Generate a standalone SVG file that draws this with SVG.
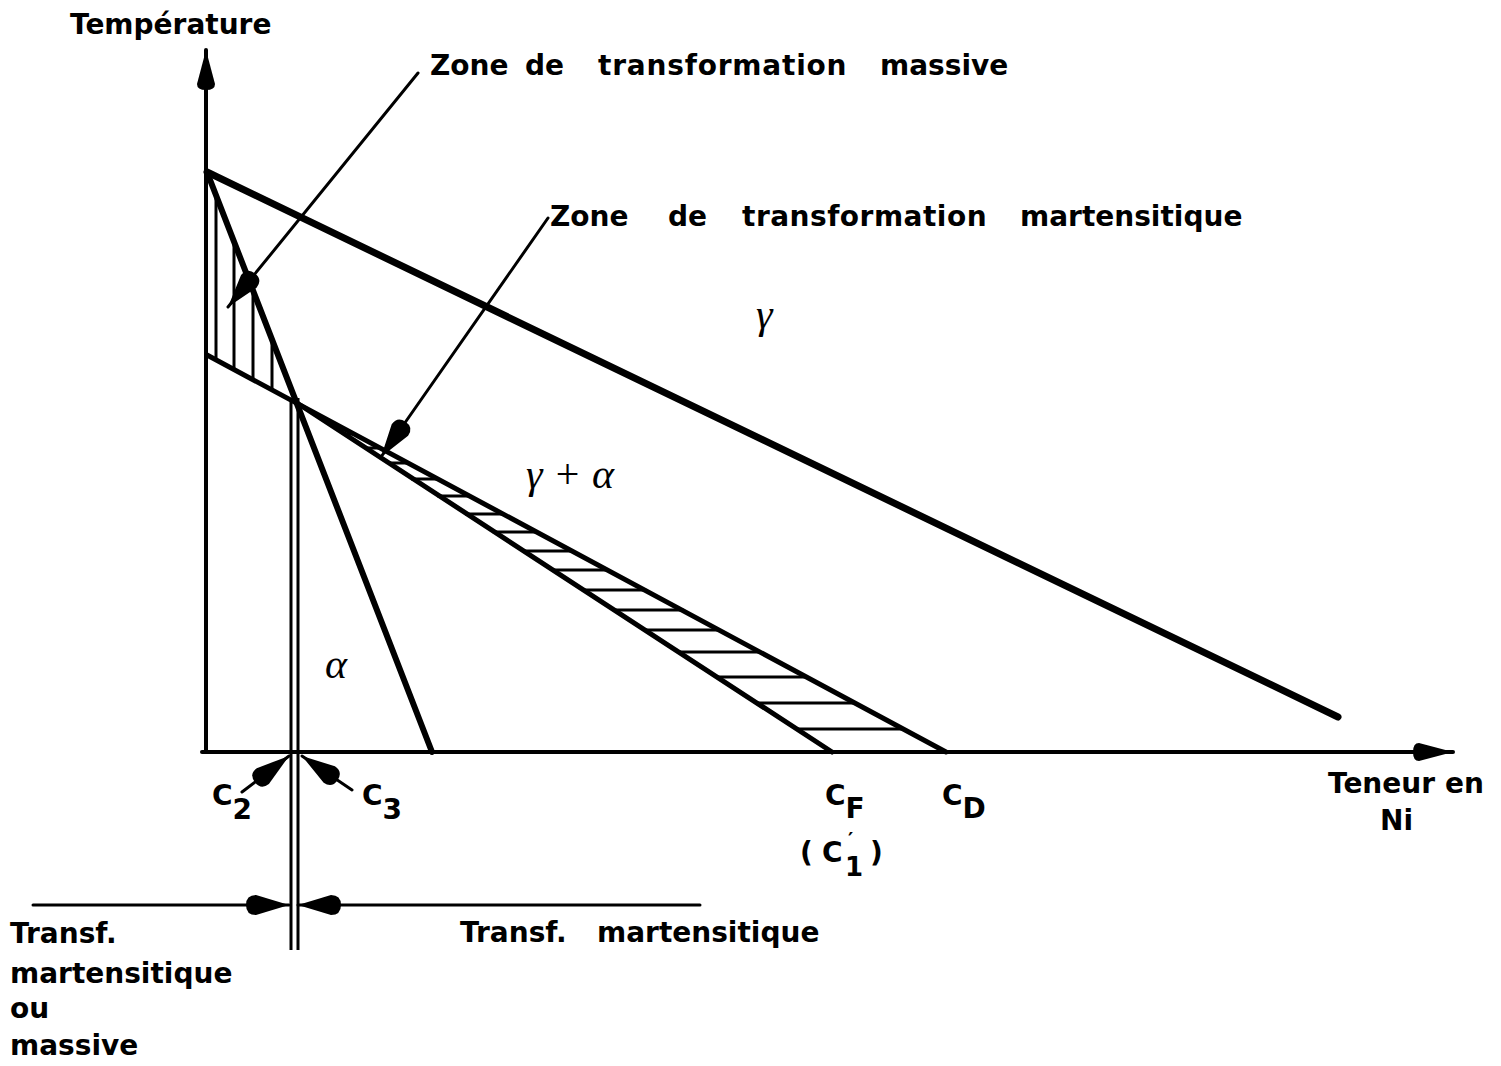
<svg xmlns="http://www.w3.org/2000/svg" width="1501" height="1066" viewBox="0 0 1501 1066">
<style>
.lbl{font-family:"DejaVu Sans","Liberation Sans",sans-serif;font-weight:bold;font-size:28px;fill:#000}
.gr{font-family:"Liberation Serif","DejaVu Serif",serif;font-style:italic;fill:#000}
.ax{stroke:#000;stroke-width:4;fill:none;stroke-linecap:round}
.bd{stroke:#000;fill:none;stroke-linecap:round;stroke-linejoin:round}
.ht{stroke:#000;stroke-width:3;fill:none}
.ld{stroke:#000;stroke-width:3;fill:none;stroke-linecap:round}
</style>
<defs>
<marker id="ah" markerUnits="userSpaceOnUse" orient="auto" overflow="visible" markerWidth="1" markerHeight="1" refX="0" refY="0">
<path d="M0,0 L-33,-10 Q-43,-10 -43,0 Q-43,10 -33,10 Z" fill="#000"/>
</marker>
<marker id="axh" markerUnits="userSpaceOnUse" orient="auto" overflow="visible" markerWidth="1" markerHeight="1" refX="0" refY="0">
<path d="M0,0 L-34,-9 Q-40,-9 -40,0 Q-40,9 -34,9 Z" fill="#000"/>
</marker>
</defs>
<rect width="1501" height="1066" fill="#fff"/>

<g id="axes">
<line class="ax" x1="206" y1="752" x2="206" y2="50" marker-end="url(#axh)"/>
<line class="ax" x1="202" y1="752" x2="1453" y2="752" marker-end="url(#axh)"/>
</g>

<g id="boundaries">
<line class="bd" stroke-width="7" x1="207" y1="172" x2="1338" y2="717"/>
<line class="bd" stroke-width="6" x1="207" y1="172" x2="432" y2="752"/>
<line class="bd" stroke-width="5" x1="207" y1="355" x2="946" y2="752"/>
<line class="bd" stroke-width="5" x1="297" y1="403" x2="832" y2="752"/>
</g>

<g id="hatch-massive">
<line class="ht" x1="216" y1="195" x2="216" y2="360"/>
<line class="ht" x1="234" y1="241" x2="234" y2="369"/>
<line class="ht" x1="253" y1="290" x2="253" y2="380"/>
<line class="ht" x1="272" y1="339" x2="272" y2="390"/>
</g>

<g id="hatch-martensitique">
<line class="ht" x1="344.8" y1="434" x2="354.7" y2="434"/>
<line class="ht" x1="366.4" y1="448" x2="380.8" y2="448"/>
<line class="ht" x1="389.5" y1="463" x2="408.9" y2="463"/>
<line class="ht" x1="411.1" y1="479" x2="438.8" y2="479"/>
<line class="ht" x1="437.3" y1="496" x2="470.5" y2="496"/>
<line class="ht" x1="465.1" y1="514" x2="504.2" y2="514"/>
<line class="ht" x1="492.8" y1="532" x2="537.8" y2="532"/>
<line class="ht" x1="522.1" y1="551" x2="573.3" y2="551"/>
<line class="ht" x1="551.4" y1="570" x2="608.8" y2="570"/>
<line class="ht" x1="582.3" y1="590" x2="646.2" y2="590"/>
<line class="ht" x1="613.2" y1="610" x2="683.6" y2="610"/>
<line class="ht" x1="644" y1="630" x2="718" y2="630"/>
<line class="ht" x1="677.9" y1="652" x2="759" y2="652"/>
<line class="ht" x1="716.5" y1="677" x2="806" y2="677"/>
<line class="ht" x1="756.6" y1="703" x2="855" y2="703"/>
<line class="ht" x1="796.7" y1="729" x2="904" y2="729"/>
</g>

<g id="limits">
<line class="ht" x1="291" y1="398" x2="291" y2="950"/>
<line class="ht" x1="298" y1="398" x2="298" y2="950"/>
</g>

<g id="connectors">
<line class="ld" x1="418" y1="73" x2="228" y2="307" marker-end="url(#ah)"/>
<line class="ld" x1="548" y1="218" x2="381" y2="457" marker-end="url(#ah)"/>
<line class="ld" x1="242" y1="792" x2="289" y2="756" marker-end="url(#ah)"/>
<line class="ld" x1="352" y1="790" x2="302" y2="756" marker-end="url(#ah)"/>
<line class="ld" x1="33" y1="905" x2="289" y2="905" marker-end="url(#ah)"/>
<line class="ld" x1="700" y1="905" x2="298" y2="905" marker-end="url(#ah)"/>
</g>

<g id="labels">
<text class="lbl" x="70" y="34" font-size="27">Température</text>
<text class="lbl" y="75"><tspan x="430">Zone</tspan> <tspan x="525">de</tspan> <tspan x="598" letter-spacing="0.8">transformation</tspan> <tspan x="880">massive</tspan></text>
<text class="lbl" y="226"><tspan x="550">Zone</tspan> <tspan x="668">de</tspan> <tspan x="742" letter-spacing="0.5">transformation</tspan> <tspan x="1020">martensitique</tspan></text>
<text class="lbl" y="793"><tspan x="1328">Teneur</tspan> <tspan x="1445">en</tspan></text>
<text class="lbl" x="1380" y="830">Ni</text>
<text class="lbl" x="212" y="805">C<tspan dy="14">2</tspan></text>
<text class="lbl" x="362" y="805">C<tspan dy="14">3</tspan></text>
<text class="lbl" x="825" y="805">C<tspan dy="13">F</tspan></text>
<text class="lbl" x="942" y="805">C<tspan dy="13">D</tspan></text>
<text class="lbl" x="800" y="862">(<tspan x="822">C</tspan><tspan x="848" y="846" font-size="20">′</tspan><tspan x="845" y="876" font-size="26">1</tspan><tspan x="870" y="862">)</tspan></text>
<text class="lbl" y="942"><tspan x="460">Transf.</tspan> <tspan x="597">martensitique</tspan></text>
<text class="lbl" x="10" y="943">Transf.</text>
<text class="lbl" x="10" y="983">martensitique</text>
<text class="lbl" x="10" y="1018">ou</text>
<text class="lbl" x="10" y="1055">massive</text>
<text class="gr" x="756" y="328" font-size="42">γ</text>
<text class="gr" x="526" y="488" font-size="42">γ + α</text>
<text class="gr" x="325" y="678" font-size="42">α</text>
</g>
</svg>
